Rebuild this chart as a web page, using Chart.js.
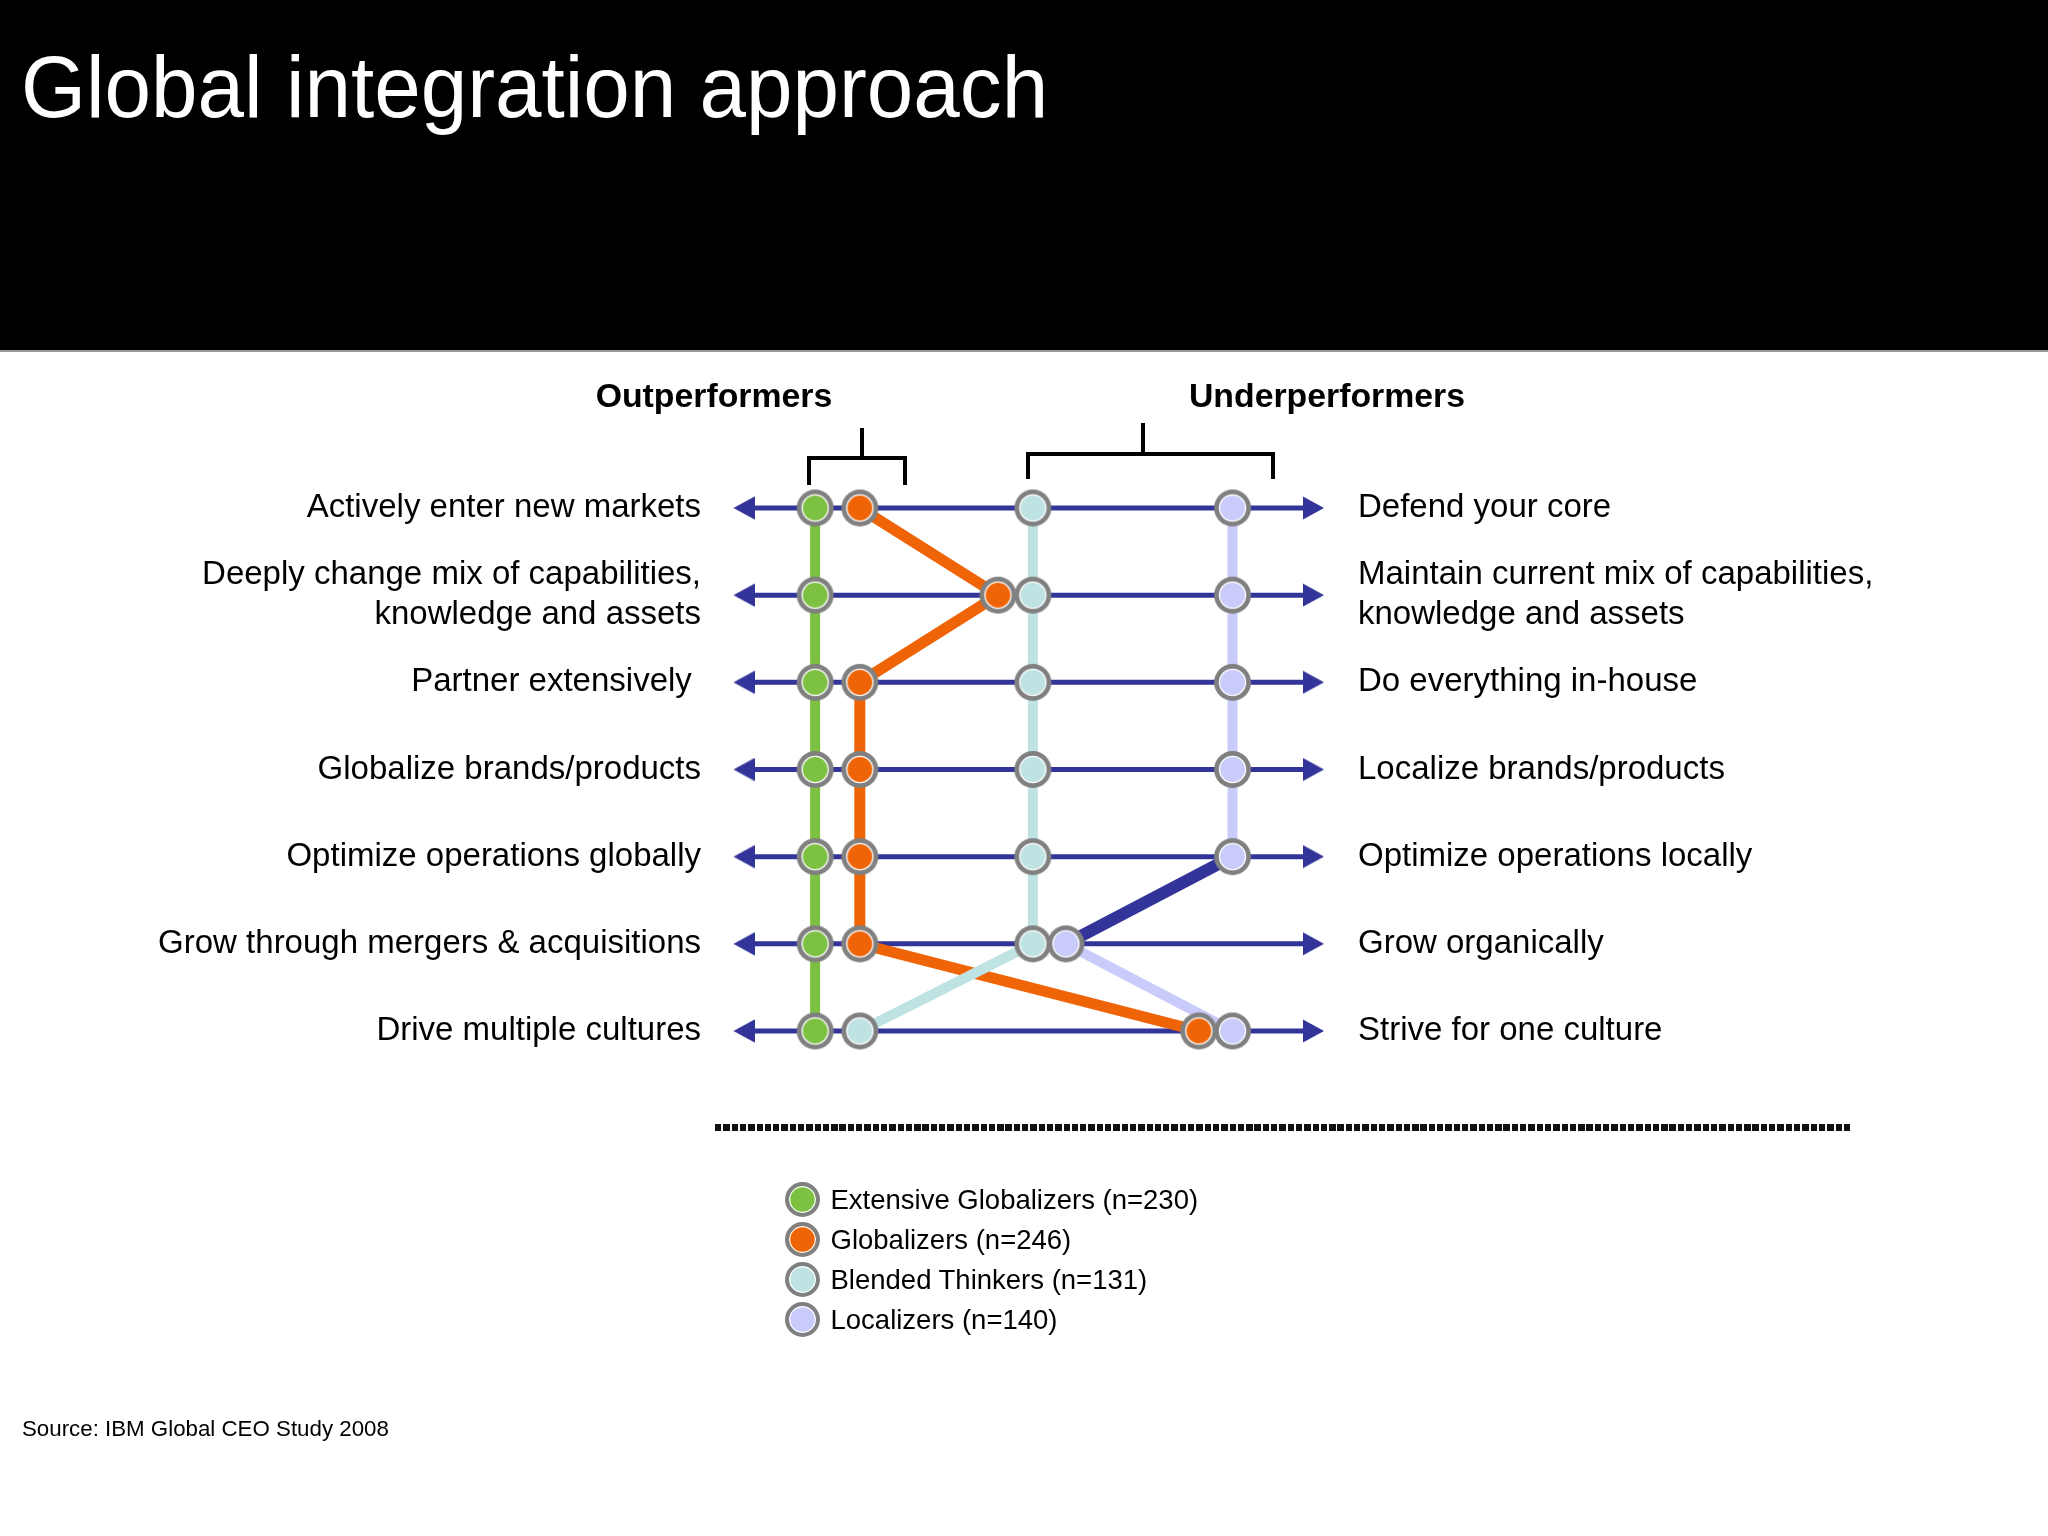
<!DOCTYPE html>
<html>
<head>
<meta charset="utf-8">
<script src="https://cdn.jsdelivr.net/npm/chart.js@4.4.1/dist/chart.umd.min.js"></script>
<style>
html,body{margin:0;padding:0;background:#fff;}
body{width:2048px;height:1536px;position:relative;overflow:hidden;font-family:"Liberation Sans",Arial,Helvetica,sans-serif;color:#000;}
#header{position:absolute;left:0;top:0;width:2048px;height:350px;background:#000;border-bottom:2px solid #9a9a9a;}
#title{position:absolute;left:21px;top:42.5px;font-size:88px;line-height:88px;color:#fff;white-space:nowrap;transform:scaleX(0.95);transform-origin:0 0;}
canvas#c{position:absolute;left:0;top:0;}
.hdr{position:absolute;top:378.5px;font-weight:bold;font-size:33.8px;line-height:33.8px;white-space:nowrap;transform:translateX(-50%);}
#brackets{position:absolute;left:0;top:0;}
#dash{position:absolute;left:715px;top:1123.5px;width:1136px;height:7px;background:repeating-linear-gradient(to right,#111 0px,#111 6.3px,#fff 6.3px,#fff 8.3px);}
#legend{position:absolute;left:784.5px;top:1181.5px;}
.lrow{display:flex;align-items:center;height:35px;margin-bottom:5px;}
.lmk{box-sizing:border-box;width:35px;height:35px;border-radius:50%;border:4.6px solid #808080;box-shadow:inset 0 0 0 1.3px #fff;flex:none;}
.ltx{margin-left:11px;font-size:27.5px;line-height:35px;white-space:nowrap;}
#source{position:absolute;left:22px;top:1418px;font-size:22.3px;line-height:22.3px;white-space:nowrap;}
</style>
</head>
<body>
<div id="header"><div id="title">Global integration approach</div></div>
<canvas id="c" width="2048" height="1536"></canvas>
<div class="hdr" style="left:714px">Outperformers</div>
<div class="hdr" style="left:1327px">Underperformers</div>
<svg id="brackets" width="2048" height="1536">
  <path d="M809,485 V458 H905 V485 M862,458 V428" stroke="#000" stroke-width="4" fill="none"/>
  <path d="M1028,479 V454 H1273 V479 M1143,454 V423" stroke="#000" stroke-width="4" fill="none"/>
</svg>
<div id="dash"></div>
<div id="legend"></div>
<div id="source">Source: IBM Global CEO Study 2008</div>
<script>
// ---------- data ----------
const leftLabels = [
  "Actively enter new markets",
  ["Deeply change mix of capabilities,", "knowledge and assets"],
  "Partner extensively ",
  "Globalize brands/products",
  "Optimize operations globally",
  "Grow through mergers & acquisitions",
  "Drive multiple cultures"
];
const rightLabels = [
  "Defend your core",
  ["Maintain current mix of capabilities,", "knowledge and assets"],
  "Do everything in-house",
  "Localize brands/products",
  "Optimize operations locally",
  "Grow organically",
  "Strive for one culture"
];
const seriesNames = [
  "Extensive Globalizers (n=230)",
  "Globalizers (n=246)",
  "Blended Thinkers (n=131)",
  "Localizers (n=140)"
];
// position on the scale: 0 = left statement, 100 = right statement
const extensiveGlobalizers = [13.2, 13.2, 13.2, 13.2, 13.2, 13.2, 13.2];
const globalizers          = [20.9, 44.7, 20.9, 20.9, 20.9, 20.9, 79.3];
const blendedThinkers      = [50.7, 50.7, 50.7, 50.7, 50.7, 50.7, 20.9];
const localizers           = [85.1, 85.1, 85.1, 85.1, 85.1, 56.4, 85.1];
const axisEnds = [0, 100];

// ---------- styles ----------
const NAVY = '#33349a';
const colors = ['#7dc142', '#ef6406', '#bfe2e2', '#c9ccfb'];
const seriesData = [extensiveGlobalizers, globalizers, blendedThinkers, localizers];
const FONT = '"Liberation Sans", Arial, Helvetica, sans-serif';

function makeMarker(fill, R) {
  const s = Math.ceil(R * 2 + 2);
  const c = document.createElement('canvas');
  c.width = s; c.height = s;
  const g = c.getContext('2d');
  const m = s / 2;
  g.beginPath(); g.arc(m, m, R, 0, Math.PI * 2); g.fillStyle = '#808080'; g.fill();
  g.beginPath(); g.arc(m, m, R * 0.74, 0, Math.PI * 2); g.fillStyle = '#ffffff'; g.fill();
  g.beginPath(); g.arc(m, m, R * 0.67, 0, Math.PI * 2); g.fillStyle = fill; g.fill();
  return c;
}
function makeArrow() {
  // left-pointing; tip 5px left of centre
  const c = document.createElement('canvas');
  c.width = 32; c.height = 24;
  const g = c.getContext('2d');
  g.beginPath(); g.moveTo(11, 12); g.lineTo(32, 0.5); g.lineTo(32, 23.5); g.closePath();
  g.fillStyle = NAVY; g.fill();
  return c;
}
const arrowImg = makeArrow();
const markers = colors.map(c => makeMarker(c, 18.5));

const datasets = [];
// row axis lines with arrowheads
leftLabels.forEach((lab, i) => {
  datasets.push({
    label: 'row' + i,
    data: axisEnds.map(x => ({x: x, y: i})),
    showLine: true,
    borderColor: NAVY,
    borderWidth: 5,
    pointStyle: arrowImg,
    pointRadius: 12,
    pointRotation: [0, 180],
    clip: false,
    order: 30
  });
});
// connecting lines
const lineWidths = [10, 11, 10, 10];
seriesData.forEach((vals, k) => {
  const ds = {
    label: seriesNames[k] + ' line',
    data: vals.map((v, i) => ({x: v, y: i})),
    showLine: true,
    borderColor: colors[k],
    borderWidth: lineWidths[k],
    pointRadius: 0,
    clip: false,
    order: 20 - k
  };
  if (k === 3) {
    ds.segment = {
      borderColor: ctx => ctx.p0DataIndex === 4 ? NAVY : colors[3],
      borderWidth: ctx => ctx.p0DataIndex === 4 ? 12 : 10
    };
  }
  datasets.push(ds);
});
// markers
seriesData.forEach((vals, k) => {
  datasets.push({
    label: seriesNames[k],
    data: vals.map((v, i) => ({x: v, y: i})),
    showLine: false,
    pointStyle: markers[k],
    pointRadius: 18,
    clip: false,
    order: 5 - k
  });
});

const tickFont = {family: FONT, size: 33, lineHeight: 1.2};
new Chart(document.getElementById('c'), {
  type: 'scatter',
  data: {datasets: datasets},
  options: {
    responsive: false,
    maintainAspectRatio: false,
    devicePixelRatio: 1,
    animation: false,
    events: [],
    layout: {padding: {top: 508, bottom: 505, left: 0, right: 0}},
    plugins: {legend: {display: false}, tooltip: {enabled: false}},
    scales: {
      x: {type: 'linear', min: 0, max: 100, display: false},
      y: {
        type: 'linear', position: 'left', min: 0, max: 6, reverse: true,
        afterFit: s => { s.width = 738.5; },
        grid: {display: false, drawTicks: false},
        border: {display: false},
        ticks: {stepSize: 1, autoSkip: false, padding: 37.5, color: '#000', font: tickFont,
                callback: v => leftLabels[v]}
      },
      y2: {
        type: 'linear', position: 'right', min: 0, max: 6, reverse: true,
        afterFit: s => { s.width = 729; },
        grid: {display: false, drawTicks: false},
        border: {display: false},
        ticks: {stepSize: 1, autoSkip: false, padding: 39, color: '#000', font: tickFont,
                callback: v => rightLabels[v]}
      }
    }
  }
});

// legend
const legend = document.getElementById('legend');
seriesNames.forEach((name, k) => {
  const row = document.createElement('div'); row.className = 'lrow';
  const mk = document.createElement('span'); mk.className = 'lmk'; mk.style.background = colors[k];
  const tx = document.createElement('span'); tx.className = 'ltx'; tx.textContent = name;
  row.appendChild(mk); row.appendChild(tx); legend.appendChild(row);
});
</script>
</body>
</html>
